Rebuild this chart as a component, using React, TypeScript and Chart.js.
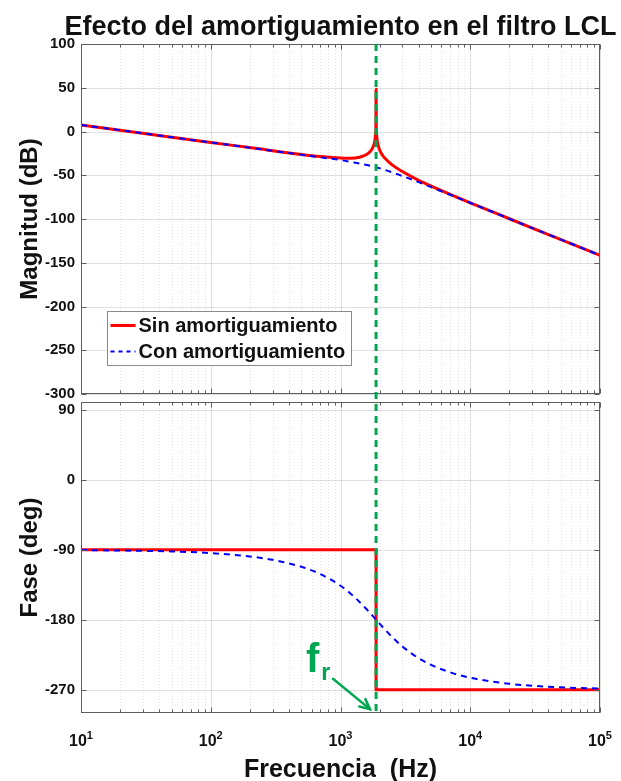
import React, { useEffect, useRef } from 'react';
import { Chart, registerables } from 'chart.js';

Chart.register(...registerables);

const FONT = '"Liberation Sans", Arial, Helvetica, sans-serif';
const INK = '#111111';
const RED = '#ff0000';
const BLUE = '#0000ff';
const GREEN = '#00a651';

// ---- texts ----
const titleText = 'Efecto del amortiguamiento en el filtro LCL';
const xTitle = 'Frecuencia  (Hz)';
const magTitle = 'Magnitud (dB)';
const phaseTitle = 'Fase (deg)';
const seriesNames = ['Sin amortiguamiento', 'Con amortiguamiento'];
const frMain = 'f';
const frSub = 'r';

// ---- axes ----
const xDecadeExps = [1, 2, 3, 4, 5];
const minorMultipliers = [2, 3, 4, 5, 6, 7, 8, 9];
const magTicks = [100, 50, 0, -50, -100, -150, -200, -250, -300];
const magRange = [-300, 100];
const phaseTicks = [90, 0, -90, -180, -270];
const phaseRange = [-300, 100];

// ---- resonance ----
const resonanceHz = 1880;

// ---- magnitude, undamped (Sin amortiguamiento) ----
const magFreqSin = [10, 20, 50, 100, 200, 500, 700, 1000, 1200, 1400, 1600, 1700, 1750, 1800, 1830, 1850, 1865, 1875, 1880, 1885, 1895, 1910, 1920, 1950, 2000, 2100, 2200, 2500, 3000, 4000, 5000, 7000, 10000, 20000, 50000, 100000];
const magSin = [7.5, 1.5, -6.5, -12.5, -18.4, -26.2, -28.6, -30.4, -30.6, -29.4, -26.0, -22.6, -20.0, -16.0, -12.2, -7.8, -1.9, 7.5, 48, 7.5, -2.1, -8.3, -10.8, -15.9, -20.9, -26.8, -30.7, -38.2, -45.8, -55.8, -62.4, -71.8, -81.5, -99.7, -123.5, -141.5];

// ---- magnitude, damped (Con amortiguamiento) ----
const magFreqCon = [10, 20, 50, 100, 200, 500, 700, 1000, 1300, 1600, 1880, 2200, 2500, 3000, 4000, 5000, 7000, 10000, 20000, 50000, 100000];
const magCon = [7.5, 1.5, -6.5, -12.5, -18.5, -26.5, -29.5, -32.6, -35.7, -38.4, -40.9, -43.9, -46.7, -50.9, -57.8, -63.6, -72.3, -81.5, -99.7, -123.5, -141.5];

// ---- phase, undamped ----
const phaseFreqSin = [10, 1880, 1880, 100000];
const phaseSin = [-90, -90, -270, -270];

// ---- phase, damped ----
const phaseFreqCon = [10, 50, 100, 200, 300, 500, 700, 1000, 1300, 1600, 1880, 2200, 2500, 3000, 4000, 5000, 7000, 10000, 20000, 50000, 100000];
const phaseCon = [-90.4, -92.2, -94.3, -98.7, -103.0, -112.0, -121.4, -136.3, -151.9, -167.1, -180, -192.6, -202.2, -214.4, -229.5, -238.2, -247.7, -254.6, -262.4, -267.0, -268.5];

// ---- annotation anchors (data coordinates: Hz, deg) ----
const frLabelAt = [542, -247];
const frArrowFrom = [875, -256];
const frArrowTo = [1688, -295];

// ---- layout ----
const W = 621;
const AREA_LEFT = 81;
const AREA_RIGHT = 600;
const TOP_AREA_TOP = 44;
const TOP_AREA_BOTTOM = 394;
const BOT_AREA_TOP = 402;
const BOT_AREA_BOTTOM = 713;
const TOP_CANVAS_H = 410;
const BOT_CANVAS_TOP = 384;
const BOT_CANVAS_H = 781 - BOT_CANVAS_TOP;
const GREEN_DASH = [7, 5];

function line(ctx: CanvasRenderingContext2D, x1: number, y1: number, x2: number, y2: number) {
  ctx.beginPath();
  ctx.moveTo(x1, y1);
  ctx.lineTo(x2, y2);
  ctx.stroke();
}

function snap(v: number) {
  return Math.round(v) + 0.5;
}

function drawGrid(chart: any, yTicks: number[]) {
  const { ctx, chartArea: a } = chart;
  const x = chart.scales.x;
  const y = chart.scales.y;
  ctx.save();
  ctx.lineWidth = 1;
  ctx.strokeStyle = 'rgba(0,0,0,0.11)';
  ctx.setLineDash([1, 2]);
  for (let i = 0; i < xDecadeExps.length - 1; i++) {
    for (const m of minorMultipliers) {
      const px = snap(x.getPixelForValue(m * Math.pow(10, xDecadeExps[i])));
      line(ctx, px, a.top, px, a.bottom);
    }
  }
  ctx.setLineDash([]);
  ctx.strokeStyle = 'rgba(0,0,0,0.12)';
  for (const e of xDecadeExps) {
    const px = snap(x.getPixelForValue(Math.pow(10, e)));
    line(ctx, px, a.top, px, a.bottom);
  }
  for (const v of yTicks) {
    const py = snap(y.getPixelForValue(v));
    line(ctx, a.left, py, a.right, py);
  }
  ctx.restore();
}

function drawFrame(chart: any, yTicks: number[]) {
  const { ctx, chartArea: a } = chart;
  const x = chart.scales.x;
  const y = chart.scales.y;
  ctx.save();
  ctx.strokeStyle = '#5e5e5e';
  ctx.lineWidth = 1;
  ctx.setLineDash([]);
  const L = snap(a.left), R = snap(a.right) - 1, T = snap(a.top), B = snap(a.bottom) - 1;
  ctx.strokeRect(L, T, R - L, B - T);
  for (let i = 0; i < xDecadeExps.length; i++) {
    const px = snap(x.getPixelForValue(Math.pow(10, xDecadeExps[i])));
    line(ctx, px, T, px, T + 5);
    line(ctx, px, B, px, B - 5);
    if (i < xDecadeExps.length - 1) {
      for (const m of minorMultipliers) {
        const mx = snap(x.getPixelForValue(m * Math.pow(10, xDecadeExps[i])));
        line(ctx, mx, T, mx, T + 3);
        line(ctx, mx, B, mx, B - 3);
      }
    }
  }
  for (const v of yTicks) {
    const py = snap(y.getPixelForValue(v));
    line(ctx, L, py, L + 5, py);
    line(ctx, R, py, R - 5, py);
  }
  ctx.restore();
}

function drawResonance(chart: any, y0: number, y1: number, offset: number) {
  const { ctx } = chart;
  const px = chart.scales.x.getPixelForValue(resonanceHz);
  ctx.save();
  ctx.strokeStyle = GREEN;
  ctx.lineWidth = 3;
  ctx.setLineDash(GREEN_DASH);
  ctx.lineDashOffset = offset;
  line(ctx, px, y0, px, y1);
  ctx.restore();
}

function drawYTitle(chart: any, text: string) {
  const { ctx, chartArea: a } = chart;
  ctx.save();
  ctx.fillStyle = INK;
  ctx.font = `bold 24px ${FONT}`;
  ctx.textAlign = 'center';
  ctx.textBaseline = 'alphabetic';
  ctx.translate(37, (a.top + a.bottom) / 2);
  ctx.rotate(-Math.PI / 2);
  ctx.fillText(text, 0, 0);
  ctx.restore();
}

const topPlugin = {
  id: 'topDecor',
  beforeDatasetsDraw(chart: any) {
    drawGrid(chart, magTicks);
  },
  afterDatasetsDraw(chart: any) {
    const { ctx, chartArea: a } = chart;
    drawFrame(chart, magTicks);
    drawResonance(chart, a.top, a.bottom + (BOT_AREA_TOP - TOP_AREA_BOTTOM) + 2, 0);
    // title
    ctx.save();
    ctx.fillStyle = INK;
    ctx.font = `bold 27px ${FONT}`;
    ctx.textAlign = 'center';
    ctx.textBaseline = 'alphabetic';
    ctx.fillText(titleText, (a.left + a.right) / 2, 35);
    ctx.restore();
    drawYTitle(chart, magTitle);
    // legend
    const bx = Math.round(a.left) + 26.5;
    const by = Math.round(a.top) + 267.5;
    const bw = 244;
    const bh = 54;
    ctx.save();
    ctx.fillStyle = '#ffffff';
    ctx.fillRect(bx, by, bw, bh);
    ctx.strokeStyle = '#8a8a8a';
    ctx.lineWidth = 1;
    ctx.strokeRect(bx, by, bw, bh);
    const rows = [by + 14, by + 40];
    ctx.strokeStyle = RED;
    ctx.lineWidth = 3;
    line(ctx, bx + 3, rows[0], bx + 28, rows[0]);
    ctx.strokeStyle = BLUE;
    ctx.lineWidth = 2;
    ctx.setLineDash([4, 4]);
    line(ctx, bx + 3, rows[1], bx + 28, rows[1]);
    ctx.setLineDash([]);
    ctx.fillStyle = INK;
    ctx.font = `bold 20px ${FONT}`;
    ctx.textAlign = 'left';
    ctx.textBaseline = 'middle';
    ctx.fillText(seriesNames[0], bx + 31, rows[0] + 1);
    ctx.fillText(seriesNames[1], bx + 31, rows[1] + 1);
    ctx.restore();
  },
};

const bottomPlugin = {
  id: 'bottomDecor',
  beforeDatasetsDraw(chart: any) {
    drawGrid(chart, phaseTicks);
  },
  afterDatasetsDraw(chart: any) {
    const { ctx, chartArea: a } = chart;
    const x = chart.scales.x;
    const y = chart.scales.y;
    drawFrame(chart, phaseTicks);
    const period = GREEN_DASH[0] + GREEN_DASH[1];
    const startPage = BOT_CANVAS_TOP + a.top;
    drawResonance(chart, a.top, a.bottom, (startPage - TOP_AREA_TOP) % period);
    drawYTitle(chart, phaseTitle);
    // x tick labels with exponents
    ctx.save();
    ctx.fillStyle = INK;
    ctx.textBaseline = 'alphabetic';
    ctx.textAlign = 'left';
    for (const e of xDecadeExps) {
      const px = x.getPixelForValue(Math.pow(10, e));
      ctx.font = `bold 16px ${FONT}`;
      const wb = ctx.measureText('10').width;
      ctx.font = `bold 11px ${FONT}`;
      const we = ctx.measureText(String(e)).width;
      const start = px - (wb + we) / 2;
      ctx.font = `bold 16px ${FONT}`;
      ctx.fillText('10', start, a.bottom + 33);
      ctx.font = `bold 11px ${FONT}`;
      ctx.fillText(String(e), start + wb, a.bottom + 26);
    }
    ctx.font = `bold 25px ${FONT}`;
    ctx.textAlign = 'center';
    ctx.fillText(xTitle, (a.left + a.right) / 2, a.bottom + 64);
    ctx.restore();
    // f_r annotation
    ctx.save();
    ctx.fillStyle = GREEN;
    ctx.strokeStyle = GREEN;
    ctx.textAlign = 'left';
    ctx.textBaseline = 'alphabetic';
    const fx = x.getPixelForValue(frLabelAt[0]);
    const fy = y.getPixelForValue(frLabelAt[1]);
    ctx.font = `bold 40px ${FONT}`;
    ctx.fillText(frMain, fx, fy);
    const fw = ctx.measureText(frMain).width;
    ctx.font = `bold 23px ${FONT}`;
    ctx.fillText(frSub, fx + fw + 2, fy + 8);
    const x1 = x.getPixelForValue(frArrowFrom[0]);
    const y1 = y.getPixelForValue(frArrowFrom[1]);
    const x2 = x.getPixelForValue(frArrowTo[0]);
    const y2 = y.getPixelForValue(frArrowTo[1]);
    ctx.lineWidth = 2.5;
    ctx.lineCap = 'round';
    line(ctx, x1, y1, x2, y2);
    const ang = Math.atan2(y2 - y1, x2 - x1);
    const hl = 11;
    ctx.beginPath();
    ctx.moveTo(x2 - hl * Math.cos(ang - 0.45), y2 - hl * Math.sin(ang - 0.45));
    ctx.lineTo(x2, y2);
    ctx.lineTo(x2 - hl * Math.cos(ang + 0.45), y2 - hl * Math.sin(ang + 0.45));
    ctx.stroke();
    ctx.restore();
  },
};

function xScale() {
  return {
    type: 'logarithmic',
    min: 10,
    max: 100000,
    ticks: { display: false },
    grid: { display: false, drawTicks: false },
    border: { display: false },
    afterFit: (s: any) => {
      s.height = 0;
    },
  };
}

function yScale(range: number[], ticks: number[]) {
  return {
    type: 'linear',
    min: range[0],
    max: range[1],
    afterBuildTicks: (s: any) => {
      s.ticks = ticks.map((v) => ({ value: v }));
    },
    afterFit: (s: any) => {
      s.width = AREA_LEFT;
    },
    grid: { display: false, drawTicks: false },
    border: { display: false },
    ticks: {
      autoSkip: false,
      padding: 6,
      color: INK,
      font: { family: FONT, size: 15, weight: 'bold' },
    },
  };
}

function pts(xs: number[], ys: number[]) {
  return xs.map((v, i) => ({ x: v, y: ys[i] }));
}

export default function App() {
  const topRef = useRef<HTMLCanvasElement>(null);
  const botRef = useRef<HTMLCanvasElement>(null);

  useEffect(() => {
    const common = {
      responsive: false,
      animation: false,
      events: [],
      plugins: { legend: { display: false }, tooltip: { enabled: false }, title: { display: false } },
    };
    const top = new Chart(topRef.current as HTMLCanvasElement, {
      type: 'line',
      data: {
        datasets: [
          {
            label: seriesNames[0],
            data: pts(magFreqSin, magSin),
            borderColor: RED,
            borderWidth: 3,
            pointRadius: 0,
            cubicInterpolationMode: 'monotone',
            order: 2,
          },
          {
            label: seriesNames[1],
            data: pts(magFreqCon, magCon),
            borderColor: BLUE,
            borderWidth: 2,
            borderDash: [6, 5],
            pointRadius: 0,
            cubicInterpolationMode: 'monotone',
            order: 1,
          },
        ],
      },
      options: {
        ...common,
        layout: {
          padding: {
            left: 0,
            right: W - AREA_RIGHT,
            top: TOP_AREA_TOP,
            bottom: TOP_CANVAS_H - TOP_AREA_BOTTOM,
          },
        },
        scales: { x: xScale(), y: yScale(magRange, magTicks) },
      } as any,
      plugins: [topPlugin],
    } as any);

    const bot = new Chart(botRef.current as HTMLCanvasElement, {
      type: 'line',
      data: {
        datasets: [
          {
            label: seriesNames[0],
            data: pts(phaseFreqSin, phaseSin),
            borderColor: RED,
            borderWidth: 3,
            pointRadius: 0,
            tension: 0,
            borderJoinStyle: 'miter',
            order: 2,
          },
          {
            label: seriesNames[1],
            data: pts(phaseFreqCon, phaseCon),
            borderColor: BLUE,
            borderWidth: 2,
            borderDash: [6, 5],
            pointRadius: 0,
            cubicInterpolationMode: 'monotone',
            order: 1,
          },
        ],
      },
      options: {
        ...common,
        layout: {
          padding: {
            left: 0,
            right: W - AREA_RIGHT,
            top: BOT_AREA_TOP - BOT_CANVAS_TOP,
            bottom: 781 - BOT_AREA_BOTTOM,
          },
        },
        scales: { x: xScale(), y: yScale(phaseRange, phaseTicks) },
      } as any,
      plugins: [bottomPlugin],
    } as any);

    return () => {
      top.destroy();
      bot.destroy();
    };
  }, []);

  return (
    <div style={{ position: 'absolute', left: 0, top: 0, width: W, height: 781, background: '#ffffff' }}>
      <canvas
        ref={botRef}
        width={W}
        height={BOT_CANVAS_H}
        style={{ position: 'absolute', left: 0, top: BOT_CANVAS_TOP, width: W, height: BOT_CANVAS_H, display: 'block' }}
      />
      <canvas
        ref={topRef}
        width={W}
        height={TOP_CANVAS_H}
        style={{ position: 'absolute', left: 0, top: 0, width: W, height: TOP_CANVAS_H, display: 'block' }}
      />
    </div>
  );
}
